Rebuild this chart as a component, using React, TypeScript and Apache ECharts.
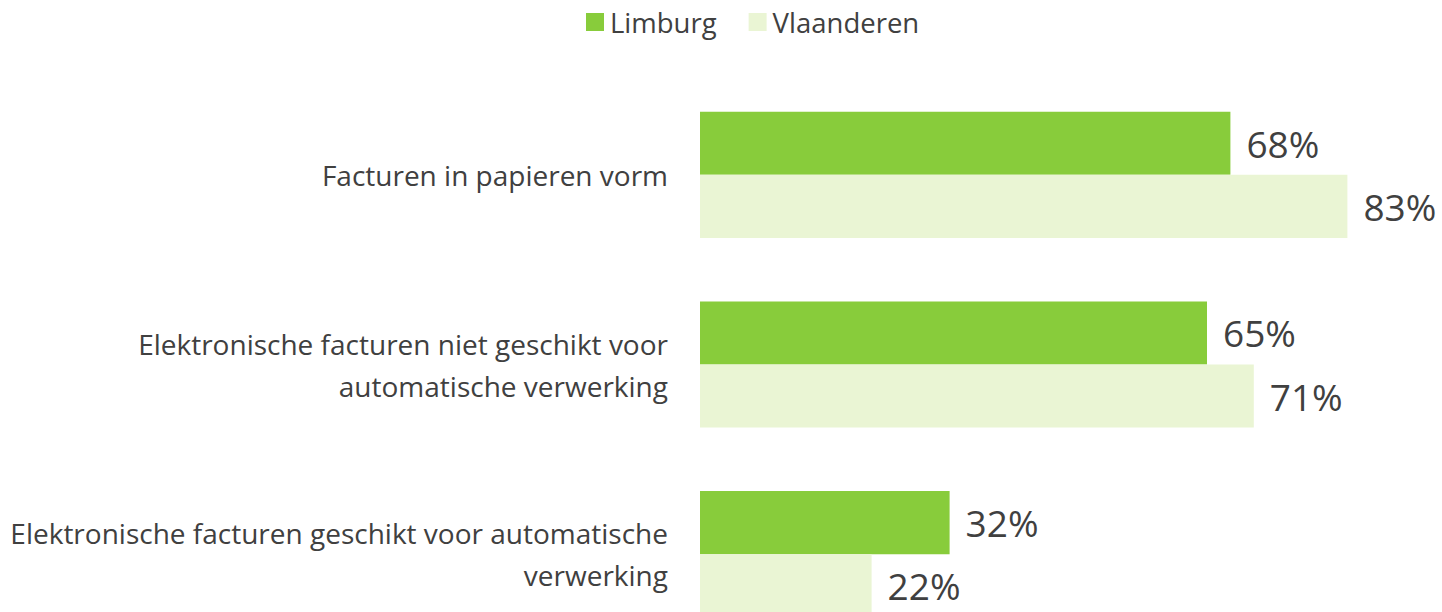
import React, { useEffect, useRef } from "react";
import * as echarts from "echarts";

const categories = [
  "Facturen in papieren vorm",
  "Elektronische facturen niet geschikt voor\nautomatische verwerking",
  "Elektronische facturen geschikt voor automatische\nverwerking",
];
const limburg = [68, 65, 32];
const vlaanderen = [83, 71, 22];

const FONT = "'Open Sans', sans-serif";
const TEXT = "#404040";

export default function App() {
  const ref = useRef<HTMLDivElement>(null);
  useEffect(() => {
    if (!ref.current) return;
    const chart = echarts.init(ref.current, undefined, { renderer: "svg" });
    chart.setOption({
      animation: false,
      legend: {
        top: 3,
        left: 581,
        itemWidth: 18,
        itemHeight: 18,
        itemGap: 32,
        icon: "rect",
        textStyle: { fontFamily: FONT, fontSize: 27.5, color: TEXT, padding: [0, 0, 0, 1] },
        data: ["Limburg", "Vlaanderen"],
      },
      grid: { left: 700, right: 40, top: 80, height: 569, containLabel: false },
      xAxis: { type: "value", min: 0, max: 90, show: false },
      yAxis: {
        type: "category",
        inverse: true,
        data: categories,
        axisLine: { show: false },
        axisTick: { show: false },
        axisLabel: {
          margin: 32,
          fontFamily: FONT,
          fontSize: 28,
          lineHeight: 42,
          color: TEXT,
          align: "right",
          padding: [0, 0, 4, 0],
        },
      },
      series: [
        {
          name: "Limburg",
          type: "bar",
          data: limburg,
          barGap: "0%",
          barCategoryGap: "33.5%",
          itemStyle: { color: "#88CC3B" },
          label: {
            show: true,
            position: "right",
            distance: 16,
            formatter: "{c}%",
            fontFamily: FONT,
            fontSize: 37,
            color: TEXT,
          },
        },
        {
          name: "Vlaanderen",
          type: "bar",
          data: vlaanderen,
          barGap: "0%",
          barCategoryGap: "33.5%",
          itemStyle: { color: "#EAF5D4" },
          label: {
            show: true,
            position: "right",
            distance: 16,
            formatter: "{c}%",
            fontFamily: FONT,
            fontSize: 37,
            color: TEXT,
          },
        },
      ],
    });
    return () => chart.dispose();
  }, []);
  return (
    <div style={{ position: "absolute", left: 0, top: 0, width: 1442, height: 612, overflow: "hidden", background: "#fff" }}>
      <div ref={ref} style={{ width: 1442, height: 660 }} />
    </div>
  );
}
